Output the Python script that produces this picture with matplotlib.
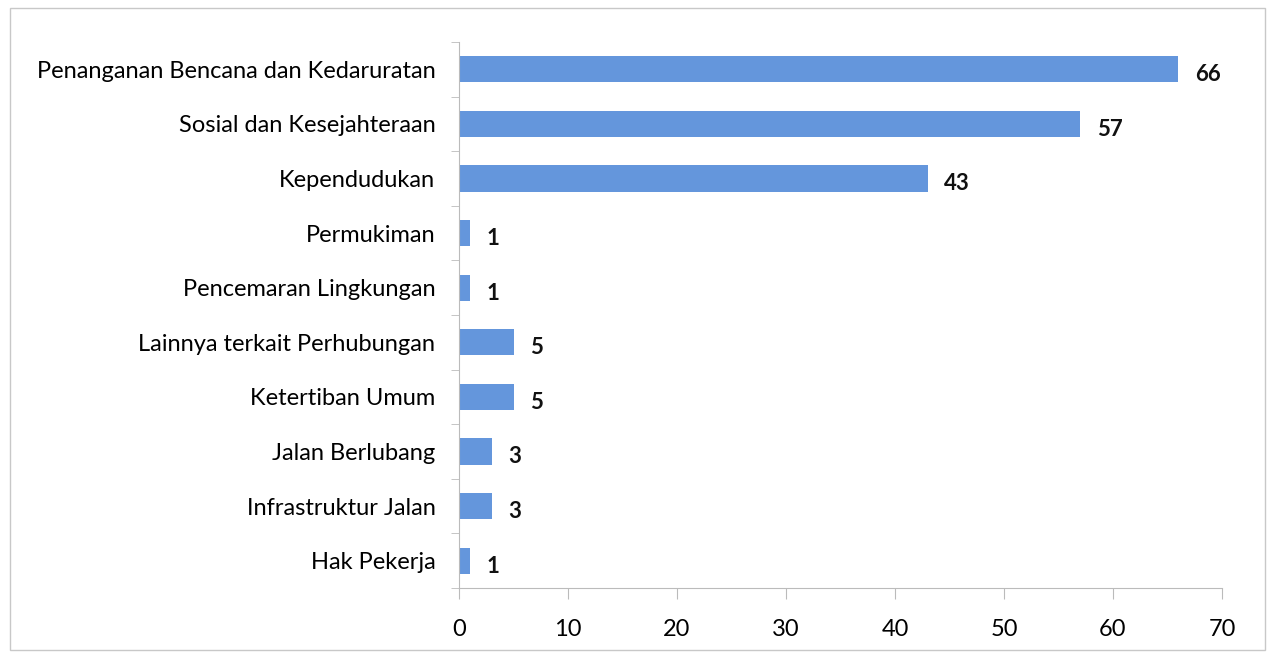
import matplotlib
matplotlib.use("Agg")
import matplotlib.pyplot as plt
from matplotlib.patches import Rectangle

categories = ["Penanganan Bencana dan Kedaruratan", "Sosial dan Kesejahteraan", "Kependudukan",
              "Permukiman", "Pencemaran Lingkungan", "Lainnya terkait Perhubungan",
              "Ketertiban Umum", "Jalan Berlubang", "Infrastruktur Jalan", "Hak Pekerja"]
values = [66, 57, 43, 1, 1, 5, 5, 3, 3, 1]
xticks = [0, 10, 20, 30, 40, 50, 60, 70]

plt.rcParams['font.family'] = ['Lato', 'DejaVu Sans']

fig = plt.figure(figsize=(12.71, 6.56), dpi=100)
ax = fig.add_axes([459/1271, 1-588/656, (1222-459)/1271, (588-42)/656])

n = len(categories)
ypos = list(range(n))
ax.barh(ypos, values, height=0.48, color='#6496DC')
ax.set_ylim(n-0.5, -0.5)
ax.set_xlim(0, 70)
ax.set_xticks(xticks)
ax.set_xticklabels([str(t) for t in xticks], fontsize=17)
ax.set_yticks(ypos)
ax.set_yticklabels(categories, fontsize=17)
ax.set_yticks([i-0.5 for i in range(n+1)], minor=True)
ax.tick_params(axis='y', which='major', length=0, pad=17)
ax.tick_params(axis='y', which='minor', length=6, color='#BBBBBB', direction='out')
ax.tick_params(axis='x', length=8, color='#BBBBBB', direction='out', pad=14)
for s in ['top', 'right']:
    ax.spines[s].set_visible(False)
for s in ['left', 'bottom']:
    ax.spines[s].set_color('#BBBBBB')

for y, v in zip(ypos, values):
    ax.text(v + 1.5, y + 0.1, str(v), va='center', ha='left', fontsize=16, fontweight='bold', color='#111111')

fig.patches.append(Rectangle((10/1271, 1-650/656), (1265-10)/1271, (650-8)/656,
                             transform=fig.transFigure, fill=False, edgecolor='#C8C8C8', linewidth=1))

fig.savefig('out.png', dpi=100)
